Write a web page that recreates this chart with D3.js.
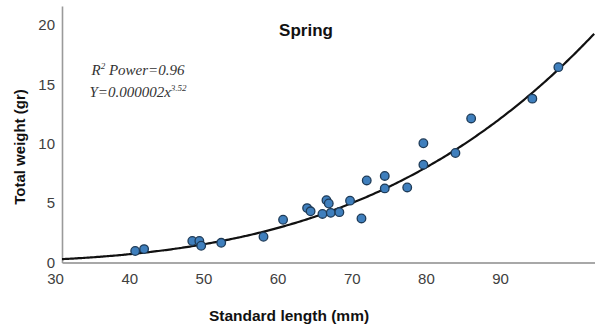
<!DOCTYPE html>
<html>
<head>
<meta charset="utf-8">
<script src="https://cdn.jsdelivr.net/npm/d3@7"></script>
<style>
  html, body { margin: 0; padding: 0; background: #fff; }
  svg { display: block; }
</style>
</head>
<body>
<svg id="chart" width="595" height="331"></svg>
<script>
// Spring sample: standard length (mm) vs total weight (g)
const lengthMm = [40.8, 42.0, 48.5, 49.45, 49.7, 52.4, 58.1, 60.74, 63.98, 64.45,
                  66.05, 66.59, 66.9, 67.17, 68.33, 69.77, 71.31, 72.02, 74.45, 74.45,
                  77.48, 79.66, 79.66, 83.98, 86.1, 94.35, 97.86];
const weightG  = [0.97, 1.13, 1.81, 1.81, 1.41, 1.66, 2.17, 3.60, 4.58, 4.31,
                  4.09, 5.25, 4.97, 4.18, 4.24, 5.21, 3.71, 6.91, 7.29, 6.24,
                  6.32, 10.04, 8.24, 9.22, 12.13, 13.8, 16.45];

// Power fit W = a * L^b
const fitA = 0.0000016;
const fitB = 3.52;
const fitR2 = 0.96;

const xTicks = [30, 40, 50, 60, 70, 80, 90];
const yTicks = [0, 5, 10, 15, 20];

const svg = d3.select("#chart");
const plot = { left: 62, right: 595, top: 6, bottom: 262.5 };

const x = d3.scaleLinear().domain([30.93, 102.8]).range([plot.left, plot.right]);
const y = d3.scaleLinear().domain([0, 21.6]).range([plot.bottom, plot.top]);

// axes
const xAxis = svg.append("g")
  .attr("transform", `translate(0,${plot.bottom})`)
  .call(d3.axisBottom(x).tickValues(xTicks).tickSize(0).tickPadding(11).tickFormat(d3.format("d")));
const yAxis = svg.append("g")
  .attr("transform", `translate(${plot.left},0)`)
  .call(d3.axisLeft(y).tickValues(yTicks).tickSize(0).tickPadding(7).tickFormat(d3.format("d")));

[xAxis, yAxis].forEach(g => {
  g.select(".domain").attr("stroke", "#9a9a9a").attr("stroke-width", 1.6);
  g.selectAll("text")
    .attr("fill", "#404040")
    .style("font-family", "'Liberation Sans', Arial, sans-serif")
    .style("font-size", "15px");
});
xAxis.select(".domain").attr("stroke", "#a8a8a8").attr("stroke-width", 2);

// fitted curve
const curveX = d3.range(x.domain()[0], x.domain()[1] + 0.01, 0.25);
svg.append("path")
  .datum(curveX)
  .attr("fill", "none")
  .attr("stroke", "#111")
  .attr("stroke-width", 2.2)
  .attr("d", d3.line().x(d => x(d)).y(d => y(fitA * Math.pow(d, fitB))).curve(d3.curveBasis));

// observations
svg.append("g").selectAll("circle")
  .data(d3.range(lengthMm.length))
  .join("circle")
  .attr("cx", i => x(lengthMm[i]))
  .attr("cy", i => y(weightG[i]))
  .attr("r", 4.3)
  .attr("fill", "#3f7fbd")
  .attr("stroke", "#1e3b58")
  .attr("stroke-width", 1.3);

// title
svg.append("text")
  .attr("x", 306).attr("y", 36)
  .attr("text-anchor", "middle")
  .style("font-family", "'Liberation Sans', Arial, sans-serif")
  .style("font-weight", "bold")
  .style("font-size", "17px")
  .attr("fill", "#111")
  .text("Spring");

// fit annotation
const ann = svg.append("g")
  .style("font-family", "'Liberation Serif', 'Times New Roman', serif")
  .style("font-style", "italic")
  .style("font-size", "15px")
  .attr("fill", "#333");
const l1 = ann.append("text").attr("x", 138).attr("y", 75).attr("text-anchor", "middle");
l1.append("tspan").text("R");
l1.append("tspan").attr("dy", -6).style("font-size", "9px").text("2");
l1.append("tspan").attr("dy", 6).text(" Power=" + d3.format(".2f")(fitR2));
const l2 = ann.append("text").attr("x", 138).attr("y", 97).attr("text-anchor", "middle");
l2.append("tspan").text("Y=" + d3.format(".6f")(fitA) + "x");
l2.append("tspan").attr("dy", -6).style("font-size", "9px").text(d3.format(".2f")(fitB));

// axis titles
svg.append("text")
  .attr("x", 289).attr("y", 321)
  .attr("text-anchor", "middle")
  .style("font-family", "'Liberation Sans', Arial, sans-serif")
  .style("font-weight", "bold")
  .style("font-size", "15.5px")
  .attr("fill", "#111")
  .text("Standard length (mm)");
svg.append("text")
  .attr("transform", "translate(25,147) rotate(-90)")
  .attr("text-anchor", "middle")
  .style("font-family", "'Liberation Sans', Arial, sans-serif")
  .style("font-weight", "bold")
  .style("font-size", "15px")
  .attr("fill", "#111")
  .text("Total weight (gr)");
</script>
</body>
</html>
